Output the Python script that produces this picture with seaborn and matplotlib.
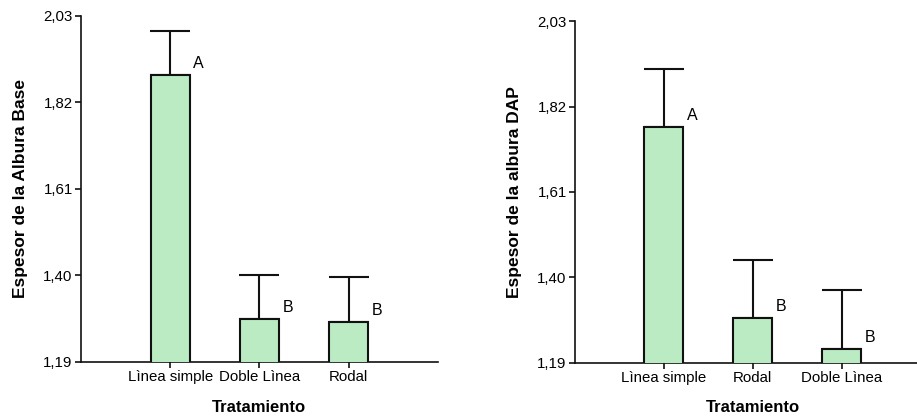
import numpy as np
import pandas as pd
import matplotlib
matplotlib.use("Agg")
import matplotlib.pyplot as plt
import seaborn as sns

# Valores
trat_base = ["Lìnea simple", "Doble Lìnea", "Rodal"]
media_base = [1.887, 1.294, 1.287]
error_base = [0.107, 0.107, 0.108]
letras_base = ["A", "B", "B"]

trat_dap = ["Lìnea simple", "Rodal", "Doble Lìnea"]
media_dap = [1.769, 1.301, 1.225]
error_dap = [0.143, 0.142, 0.144]
letras_dap = ["A", "B", "B"]

yticks = [1.19, 1.40, 1.61, 1.82, 2.03]

sns.set_style("white")
plt.rcParams["font.family"] = ["Liberation Sans", "DejaVu Sans"]
plt.rcParams["text.color"] = "black"
plt.rcParams["axes.labelcolor"] = "black"
plt.rcParams["xtick.color"] = "black"
plt.rcParams["ytick.color"] = "black"

fig = plt.figure(figsize=(9.17, 4.16), dpi=100)
ax1 = fig.add_axes([0.0883, 0.130, 0.389, 0.832])
ax2 = fig.add_axes([0.627, 0.128, 0.388, 0.821])

color_barra = "#BBEBC3"


def panel(ax, trat, media, error, letras, ylabel):
    df = pd.DataFrame({"Tratamiento": trat, "valor": media})
    sns.barplot(data=df, x="Tratamiento", y="valor", color=color_barra,
                width=0.44, edgecolor="#111111", linewidth=1.5,
                errorbar=None, ax=ax, zorder=3)
    for p in ax.patches:
        p.set_facecolor(color_barra)
    xs = np.arange(len(trat))
    ax.errorbar(xs, media, yerr=[np.zeros(len(trat)), error], fmt="none",
                ecolor="#111111", elinewidth=1.5, capsize=14.2, capthick=1.5,
                zorder=2)
    for x, m, l in zip(xs, media, letras):
        ax.text(x + 0.32, m + 0.028, l, fontsize=11.5, ha="center",
                va="center", color="black")
    ax.set_xlim(-1, 3)
    ax.set_ylim(1.19, 2.03)
    ax.set_yticks(yticks)
    ax.set_yticklabels([f"{v:.2f}".replace(".", ",") for v in yticks])
    ax.set_xlabel("Tratamiento", fontsize=12, fontweight="bold", labelpad=11,
                  color="black")
    ax.set_ylabel(ylabel, fontsize=12.5, fontweight="bold", labelpad=11,
                  color="black")
    for s in ["top", "right"]:
        ax.spines[s].set_visible(False)
    for s in ["left", "bottom"]:
        ax.spines[s].set_linewidth(1.2)
        ax.spines[s].set_color("#111111")
    ax.tick_params(axis="both", which="major", direction="out", length=4,
                   width=1.2, color="#111111", labelcolor="black",
                   labelsize=10.8, pad=2, bottom=True, left=True)


panel(ax1, trat_base, media_base, error_base, letras_base,
      "Espesor de la Albura Base")
panel(ax2, trat_dap, media_dap, error_dap, letras_dap,
      "Espesor de la albura DAP")

fig.savefig("out.png", dpi=100)
